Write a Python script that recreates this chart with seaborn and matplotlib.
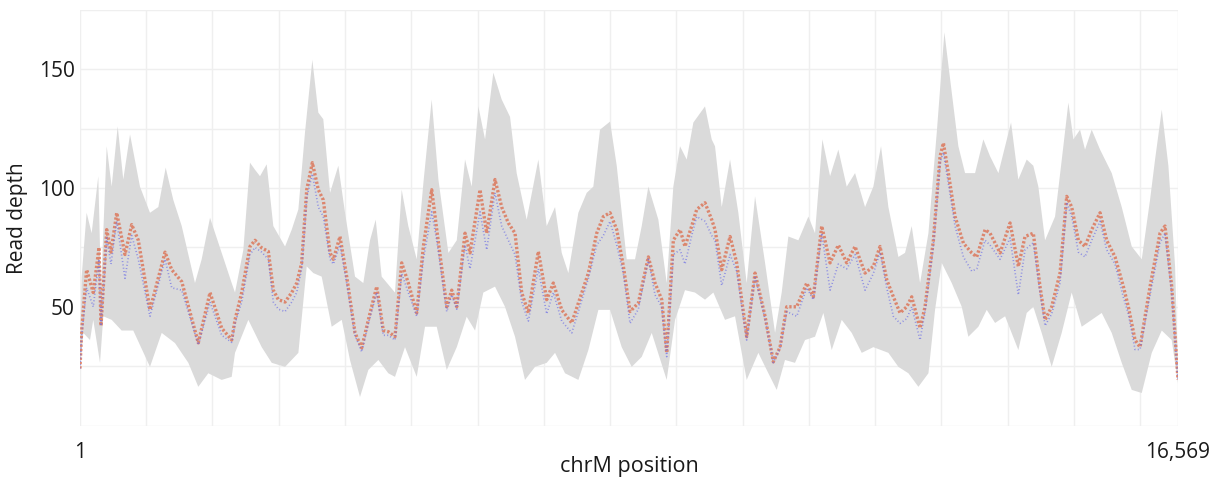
import numpy as np
import matplotlib
matplotlib.use("Agg")
import matplotlib.pyplot as plt
import seaborn as sns
from matplotlib.ticker import FixedLocator

# ---------------- data ----------------
sample_pos = [1, 26, 101, 201, 288, 318, 404, 469, 555, 680, 781, 881, 1057, 1284, 1385, 1536,
              1786, 1963, 2139, 2290, 2340, 2441, 2566, 2642, 2743, 2843, 2918, 2994, 3095, 3196,
              3271, 3346, 3422, 3507, 3597, 3672, 3774, 3824, 3924, 4025, 4151, 4252, 4352, 4478,
              4578, 4653, 4754, 4855, 4955, 5082, 5182, 5308, 5384, 5535, 5610, 5686, 5811, 5886,
              6037, 6138, 6263, 6364, 6464, 6565, 6666, 6766, 6917, 7043, 7143, 7270, 7421, 7521,
              7672, 7798, 7898, 7999, 8100, 8200, 8301, 8426, 8577, 8678, 8779, 8854, 8954, 9055,
              9130, 9231, 9307, 9432, 9533, 9583, 9684, 9810, 9910, 10061, 10187, 10338, 10463,
              10564, 10665, 10816, 10967, 11067, 11193, 11319, 11444, 11570, 11696, 11847, 11972,
              12073, 12174, 12274, 12375, 12476, 12551, 12677, 12752, 12878, 12979, 13029, 13104,
              13205, 13331, 13457, 13532, 13658, 13733, 13884, 14035, 14160, 14261, 14386, 14487,
              14563, 14663, 14789, 14890, 14965, 15066, 15166, 15267, 15393, 15493, 15619, 15745,
              15820, 15921, 15996, 16147, 16298, 16373, 16474, 16569]

red_depth = [24, 40, 65.6, 56, 75, 42, 82.5, 73, 89.6, 72, 84.6, 78, 48.7, 73, 65.6, 60.6,
             34.8, 56, 41, 36, 44.5, 56, 75.4, 78, 74.8, 73.3, 57, 53, 52, 56,
             60, 68.5, 99.3, 110.7, 99.3, 95, 72.7, 70, 79.6, 62.7, 39, 32.7, 44.5, 58.5,
             40, 39.5, 37.4, 68.5, 60, 47.4, 75.4, 99.3, 82.5, 50, 57, 50, 81, 72.7,
             99.3, 81, 103.6, 92, 85.3, 81, 56, 47.4, 73.3, 53, 60, 48.7, 43.2, 51.6,
             64.2, 81, 88, 89.6, 82.5, 67, 48, 51.6, 71, 60, 53, 30.6, 78, 82.5,
             75.4, 84, 91, 93.8, 86.7, 82.5, 65.6, 79.6, 68.5, 37.4, 64.2, 46, 26.8,
             33, 50, 50, 60, 54.2, 84, 68.5, 76, 68.5, 75.4, 64.2, 67,
             75.4, 61.4, 54.2, 47.4, 50, 54.2, 41, 50, 78, 113.4, 119, 106.3,
             88, 76.8, 72.7, 71, 82.5, 81, 72.7, 85.3, 67, 79.6, 81, 58.5,
             44.5, 50, 64.2, 96.5, 92, 78, 75.4, 82.5, 89.6, 78, 71, 58.5,
             50, 36, 33, 58.5, 81, 84, 58.5, 19.2]

blue_depth = [24, 38, 58, 50, 70, 42, 79, 68, 86, 62, 80, 70, 46, 70, 58, 57,
              34, 52, 38, 35, 43, 52, 72, 75, 73, 70, 52, 49, 48, 52,
              56, 66, 96, 106, 92, 88, 70, 68, 76, 60, 38, 31, 43, 56,
              38, 38, 36, 64, 56, 46, 70, 90, 78, 48, 55, 49, 76, 66,
              90, 74, 98, 84, 78, 72, 52, 44, 66, 47, 56, 44, 39, 48,
              62, 76, 80, 86, 76, 64, 43, 49, 70, 55, 50, 29, 72, 74,
              68, 80, 88, 86, 80, 78, 59, 72, 65, 36, 63, 45, 26.5,
              32.5, 48, 46, 58, 53, 81, 57, 68, 66, 72, 57, 64,
              73, 58, 46, 43, 45, 50, 36, 48, 76, 111, 115, 102,
              84, 71, 65, 66, 78, 76, 70, 79, 55, 74, 77, 56,
              42, 47, 60, 94, 88, 73, 71, 78, 86, 74, 68, 54,
              47, 32, 32, 55, 77, 81, 56, 19]

band_upper_pos = [1, 26, 101, 177, 277, 318, 404, 479, 570, 654, 756, 906, 1057, 1183, 1294, 1409,
                  1536, 1736, 1837, 1963, 2139, 2290, 2340, 2466, 2566, 2642, 2717, 2818, 2918, 3095,
                  3196, 3296, 3396, 3507, 3597, 3672, 3774, 3899, 4000, 4151, 4276, 4377, 4463, 4553,
                  4754, 4855, 4955, 5082, 5182, 5308, 5409, 5560, 5686, 5811, 5912, 6012, 6113, 6238,
                  6364, 6490, 6590, 6741, 6917, 7043, 7169, 7270, 7370, 7521, 7647, 7747, 7848, 7999,
                  8100, 8250, 8376, 8477, 8577, 8728, 8854, 8954, 9055, 9156, 9256, 9432, 9533, 9583,
                  9684, 9810, 9935, 10061, 10187, 10338, 10489, 10589, 10690, 10841, 10992, 11092,
                  11203, 11319, 11444, 11570, 11696, 11847, 11972, 12088, 12199, 12350, 12450, 12551,
                  12677, 12803, 12929, 13044, 13155, 13255, 13356, 13507, 13632, 13733, 13859, 14050,
                  14160, 14286, 14386, 14462, 14563, 14714, 14839, 14915, 14991, 15091, 15166, 15267,
                  15393, 15569, 15720, 15871, 16022, 16147, 16223, 16324, 16424, 16525, 16569]

band_upper = [30, 62.7, 89.6, 81, 105, 57, 117.6, 100.6, 126, 103.6, 122.6, 100.6, 89.6, 92, 108.6, 95,
              84, 60, 70, 87.5, 72.7, 60, 56, 74, 110.7, 107.7, 105, 110, 84, 75.4,
              82.5, 91, 123.4, 154, 131.8, 129, 98, 109.4, 89.6, 62.7, 60, 78, 86.7, 62.7,
              56, 99.3, 84, 70, 102, 137.3, 103.6, 72.7, 78, 112, 100.6, 134.4, 120.5, 148.6,
              137.3, 130, 106.3, 86.7, 112, 84, 92, 72.7, 64.2, 89.6, 98, 100.6, 124.6, 128,
              109.4, 70, 70, 84, 100.6, 86.7, 60, 100.6, 117.6, 112, 127.6, 134.4, 120.5, 117.6,
              92, 112, 89.6, 60, 96.5, 68.5, 39, 56, 79.6, 78, 88, 81,
              120.5, 105, 116.2, 100.6, 106.3, 92, 100.6, 117.6, 92, 71, 72.7, 84,
              60, 81, 123.4, 165.6, 140.3, 117.6, 106.3, 106.3, 120.5, 113.4, 106.3, 127.6,
              103.6, 112, 109.4, 100.6, 78, 88, 117.6, 136, 120.5, 124.6, 116.2, 124.6,
              116.2, 106.3, 92, 75.4, 70, 95, 112, 133, 109.4, 67, 24.7]

band_lower_pos = [1, 51, 152, 201, 303, 353, 479, 630, 805, 1057, 1234, 1435, 1636, 1786, 1937, 2139,
                  2290, 2340, 2541, 2743, 2894, 3095, 3296, 3422, 3522, 3648, 3799, 3950, 4075, 4226,
                  4352, 4503, 4653, 4754, 4905, 5082, 5207, 5384, 5535, 5686, 5836, 5962, 6087, 6263,
                  6414, 6565, 6716, 6867, 7043, 7169, 7320, 7521, 7672, 7823, 7999, 8175, 8326, 8477,
                  8628, 8854, 8980, 9130, 9281, 9432, 9558, 9734, 9885, 10061, 10237, 10388, 10514,
                  10639, 10790, 10941, 11092, 11218, 11344, 11495, 11646, 11797, 11972, 12199, 12350,
                  12501, 12652, 12803, 12903, 13004, 13155, 13306, 13406, 13557, 13683, 13809, 13960,
                  14160, 14286, 14386, 14512, 14663, 14814, 14965, 15116, 15267, 15418, 15569, 15720,
                  15871, 16022, 16173, 16324, 16474, 16569]

band_lower = [23.4, 39, 36, 44.5, 26.4, 46, 44.5, 40, 40, 24.7, 39, 34.7, 26.4, 16.3, 22, 19.2,
              20.5, 30.6, 44.5, 33, 26.4, 24.7, 30.6, 67, 64.2, 62.7, 41.6, 44.5, 27.6, 12,
              23.4, 27.6, 22, 20.5, 33, 20.5, 41.6, 41.6, 23.4, 33, 45.8, 40, 56, 58.5,
              50, 37.4, 19.2, 24.7, 26.4, 30.6, 22, 19.2, 31.8, 48.7, 48.7, 33, 24.7, 28.9,
              39, 19.2, 44.5, 57, 56, 53, 56, 44.5, 46, 19.2, 30.6, 22, 15,
              27.6, 26.4, 36, 37.4, 47.4, 31.8, 44.5, 39, 30.6, 33, 30.6, 24.7,
              22, 16.3, 22, 48.7, 68.5, 60, 50, 37.4, 41.6, 48.7, 43.2, 46,
              31.8, 47.4, 50, 39, 24.7, 39, 56, 41.6, 44.5, 47.4, 39, 26.4,
              15, 13.7, 30.6, 40, 36, 17.8]

x_tick_values = [1, 16569]
x_tick_labels = ["1", "16,569"]
y_tick_values = [50, 100, 150]

# ---------------- style ----------------
sns.set_theme(style="white")
plt.rcParams['font.family'] = ['Open Sans', 'DejaVu Sans']

fig = plt.figure(figsize=(12.25, 4.84), dpi=100)
ax = fig.add_axes([80 / 1225, 1 - 425.5 / 484, 1098 / 1225, 415.5 / 484])

# grey band
poly_x = np.concatenate([band_upper_pos, band_lower_pos[::-1]])
poly_y = np.concatenate([band_upper, band_lower[::-1]])
ax.fill(poly_x, poly_y, color="#dadada", lw=0, zorder=1)

# red and blue dotted tracks
sns.lineplot(x=sample_pos, y=red_depth, ax=ax, color="#dc6a4a", lw=2.4,
             alpha=0.75, zorder=3)
sns.lineplot(x=sample_pos, y=blue_depth, ax=ax, color="#6a6ce6", lw=1.2,
             alpha=0.7, zorder=4)
ax.lines[0].set_dashes((0.7, 0.6))
ax.lines[1].set_dashes((0.6, 1.4))

ax.set_xlim(1, 16569)
ax.set_ylim(0, 175)

ax.xaxis.set_major_locator(FixedLocator(x_tick_values))
ax.set_xticklabels(x_tick_labels)
ax.xaxis.set_minor_locator(FixedLocator(list(range(1000, 16569, 1000))))
ax.yaxis.set_major_locator(FixedLocator(y_tick_values))
ax.yaxis.set_minor_locator(FixedLocator([0, 25, 75, 125, 175]))

ax.grid(True, which="both", color="#efefef", lw=1.0, zorder=0)
ax.set_axisbelow(True)
for s in ax.spines.values():
    s.set_visible(False)

ax.tick_params(axis="both", which="both", length=0, labelsize=15, colors="#1a1a1a")
ax.tick_params(axis="x", pad=12)
ax.tick_params(axis="y", pad=4)

ax.set_xlabel("chrM position", fontsize=15.5, color="#1a1a1a", labelpad=-5)
ax.set_ylabel("Read depth", fontsize=15, color="#1a1a1a")
ax.yaxis.set_label_coords(-0.047, 0.5)

fig.savefig("out.png", dpi=100, facecolor="white")
